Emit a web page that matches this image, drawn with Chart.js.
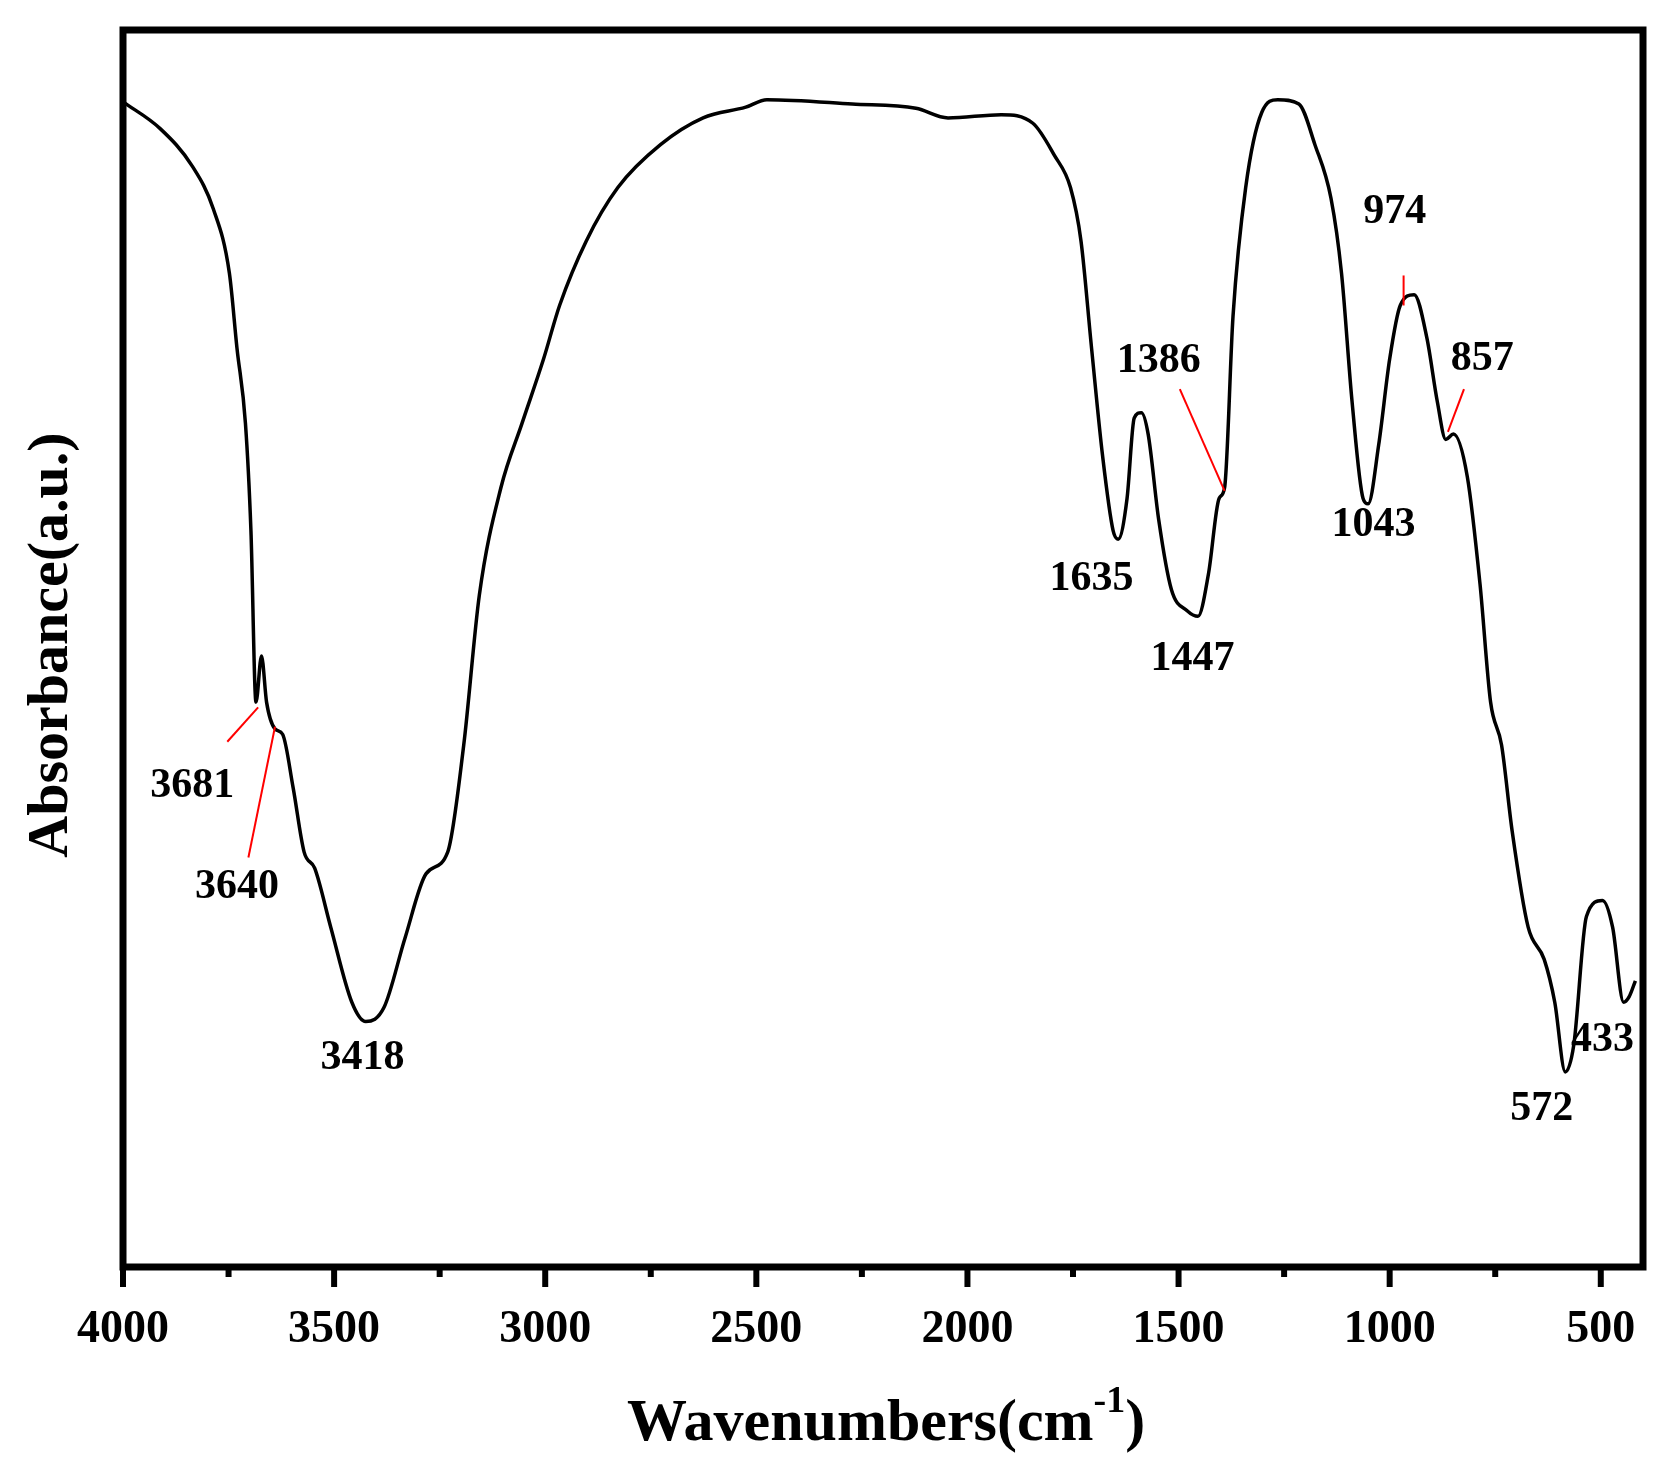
<!DOCTYPE html>
<html>
<head>
<meta charset="utf-8">
<script src="https://cdn.jsdelivr.net/npm/chart.js@4"></script>
<style>
  html, body { margin: 0; padding: 0; background: #fff; }
  #wrap { width: 1673px; height: 1474px; }
</style>
</head>
<body>
<div id="wrap"><canvas id="ftir" width="1673" height="1474"></canvas></div>
<script>
// FTIR spectrum, values
const wavenumbers = [4000, 3912, 3836, 3786, 3748, 3730, 3710, 3697, 3685, 3672, 3660, 3640, 3622, 3597, 3571, 3546,
  3508, 3458, 3425, 3382, 3332, 3282, 3231, 3193, 3156, 3105, 3055, 3004, 2966, 2903, 2828, 2727, 2626, 2525, 2475,
  2273, 2122, 2046, 1920, 1845, 1794, 1756, 1731, 1706, 1680, 1655, 1643, 1622, 1605, 1588, 1572, 1547, 1517, 1479,
  1454, 1429, 1404, 1391, 1371, 1341, 1303, 1265, 1215, 1177, 1139, 1114, 1089, 1063, 1051, 1026, 1000, 975, 942,
  912, 887, 867, 849, 816, 786, 761, 735, 710, 672, 634, 609, 584, 564, 534, 496, 472, 446, 433, 418];
const absorbance = [1087, 1062, 1027, 987, 927, 857, 787, 687, 527, 570, 527, 502, 497, 447, 387, 372,
  317, 247, 229, 242, 307, 367, 387, 487, 627, 727, 787, 847, 897, 957, 1007, 1047, 1072, 1082, 1089,
  1085, 1081, 1072, 1075, 1067, 1037, 1007, 957, 857, 757, 687, 679, 717, 792, 797, 777, 697, 632, 612,
  607, 647, 717, 727, 887, 1007, 1077, 1089, 1085, 1047, 997, 927, 807, 717, 712, 767, 847, 897, 907,
  867, 807, 772, 777, 737, 637, 527, 487, 407, 317, 287, 247, 182, 207, 327, 342, 317, 247, 252, 267];
const xTicks = [4000, 3500, 3000, 2500, 2000, 1500, 1000, 500];
const xMinorTicks = [3750, 3250, 2750, 2250, 1750, 1250, 750];

// peak labels: text position and optional red leader line [wn1, v1, wn2, v2]
const peakLabels = ['3681', '3640', '3418', '1635', '1447', '1386', '1043', '974', '857', '572', '433'];
const labelPos = [[3836, 449], [3730, 354], [3433, 195], [1706, 642], [1467, 567], [1547, 845],
  [1038, 692], [988, 984], [781, 847], [640, 147], [496, 212]];
const leaders = [[3753, 490, 3680, 522], [3703, 382, 3640, 504], null, null, null, [1497, 819, 1391, 724],
  null, [967, 925, 967, 897], [824, 819, 862, 779], null, null];

const FONT = '"Liberation Serif", "Times New Roman", serif';

const overlay = {
  id: 'overlay',
  afterDraw(chart) {
    const { ctx, chartArea: a, scales: { x, y } } = chart;
    ctx.save();
    // frame
    ctx.strokeStyle = '#000';
    ctx.lineWidth = 7;
    ctx.strokeRect(a.left, a.top, a.right - a.left, a.bottom - a.top);
    // ticks
    ctx.lineWidth = 6;
    xTicks.forEach(t => {
      const px = x.getPixelForValue(t);
      ctx.beginPath(); ctx.moveTo(px, a.bottom); ctx.lineTo(px, a.bottom + 20); ctx.stroke();
    });
    xMinorTicks.forEach(t => {
      const px = x.getPixelForValue(t);
      ctx.beginPath(); ctx.moveTo(px, a.bottom); ctx.lineTo(px, a.bottom + 10); ctx.stroke();
    });
    // leaders
    ctx.strokeStyle = '#ff0000';
    ctx.lineWidth = 2;
    leaders.forEach(l => {
      if (!l) return;
      ctx.beginPath();
      ctx.moveTo(x.getPixelForValue(l[0]), y.getPixelForValue(l[1]));
      ctx.lineTo(x.getPixelForValue(l[2]), y.getPixelForValue(l[3]));
      ctx.stroke();
    });
    // peak labels
    ctx.fillStyle = '#000';
    ctx.font = 'bold 42px ' + FONT;
    ctx.textAlign = 'center';
    ctx.textBaseline = 'middle';
    peakLabels.forEach((t, i) => {
      ctx.fillText(t, x.getPixelForValue(labelPos[i][0]), y.getPixelForValue(labelPos[i][1]));
    });
    // x title with superscript
    ctx.textAlign = 'left';
    ctx.textBaseline = 'alphabetic';
    const main = 'Wavenumbers(cm', sup = '-1', end = ')';
    ctx.font = 'bold 60px ' + FONT;
    const w1 = ctx.measureText(main).width;
    const w3 = ctx.measureText(end).width;
    ctx.font = 'bold 38px ' + FONT;
    const w2 = ctx.measureText(sup).width;
    const sx = 886 - (w1 + w2 + w3) / 2;
    const by = 1440;
    ctx.font = 'bold 60px ' + FONT;
    ctx.fillText(main, sx, by);
    ctx.font = 'bold 38px ' + FONT;
    ctx.fillText(sup, sx + w1, by - 28);
    ctx.font = 'bold 60px ' + FONT;
    ctx.fillText(end, sx + w1 + w2, by);
    // y title
    ctx.translate(52, 645);
    ctx.rotate(-Math.PI / 2);
    ctx.textAlign = 'center';
    ctx.textBaseline = 'middle';
    ctx.font = 'bold 58px ' + FONT;
    ctx.fillText('Absorbance(a.u.)', 0, 0);
    ctx.restore();
  }
};

new Chart(document.getElementById('ftir'), {
  type: 'line',
  data: {
    datasets: [{
      data: wavenumbers.map((w, i) => ({ x: w, y: absorbance[i] })),
      borderColor: '#000',
      borderWidth: 3.5,
      pointRadius: 0,
      cubicInterpolationMode: 'monotone',
      fill: false
    }]
  },
  options: {
    responsive: false,
    animation: false,
    layout: { padding: { top: 30, right: 30, left: 0, bottom: 0 } },
    plugins: { legend: { display: false }, tooltip: { enabled: false } },
    scales: {
      x: {
        type: 'linear', reverse: true, min: 400, max: 4000,
        afterBuildTicks: s => { s.ticks = xTicks.map(v => ({ value: v })); },
        afterFit: s => { s.height = 207; },
        grid: { display: false },
        border: { display: false },
        ticks: {
          color: '#000', font: { family: FONT, size: 46, weight: 'bold' }, padding: 28,
          callback: v => String(v)
        }
      },
      y: {
        min: 0, max: 1154,
        afterFit: s => { s.width = 123; },
        grid: { display: false },
        border: { display: false },
        ticks: { display: false }
      }
    }
  },
  plugins: [overlay]
});
</script>
</body>
</html>
